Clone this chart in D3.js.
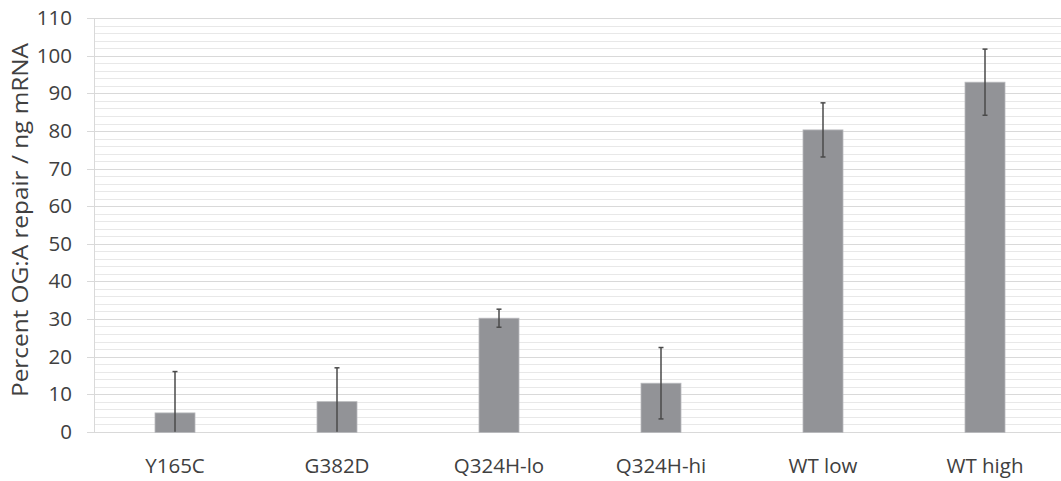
<!DOCTYPE html>
<html>
<head>
<meta charset="utf-8">
<script src="https://cdn.jsdelivr.net/npm/d3@7"></script>
<style>
  body { margin: 0; background: #fff; }
  text { font-family: "Open Sans", sans-serif; fill: #404040; }
</style>
</head>
<body>
<script>
var categories = ['Y165C', 'G382D', 'Q324H-lo', 'Q324H-hi', 'WT low', 'WT high'];
var values = [5, 8, 30.2, 12.9, 80.3, 93];
var errors = [11, 9, 2.4, 9.5, 7.2, 8.8];
var majorTicks = [0, 10, 20, 30, 40, 50, 60, 70, 80, 90, 100, 110];
var minorTicks = d3.range(0, 111, 2);
var yTitle = 'Percent OG:A repair / ng mRNA';

var width = 1061, height = 481;
var plotLeft = 94, plotRight = 1066, plotTop = 18.3, plotBottom = 431.7;

var svg = d3.select('body').append('svg').attr('width', width).attr('height', height);

var x = d3.scaleBand().domain(categories).range([plotLeft, plotRight]).paddingInner(0).paddingOuter(0);
var y = d3.scaleLinear().domain([0, 110]).range([plotBottom, plotTop]);

function py(d) { return Math.round(y(d)) + 0.5; }

// minor gridlines
svg.append('g').selectAll('line.minor')
  .data(minorTicks.filter(function(d){ return d % 10 !== 0; }))
  .enter().append('line')
    .attr('class', 'minor')
    .attr('x1', plotLeft).attr('x2', width)
    .attr('y1', py).attr('y2', py)
    .attr('stroke', '#e8e8e8').attr('stroke-width', 1);

// major gridlines + y axis
var yAxis = d3.axisLeft(y).tickValues(majorTicks).tickSize(7).tickPadding(15);
var gy = svg.append('g').attr('transform', 'translate(' + plotLeft + ',0)').call(yAxis);
gy.select('.domain').remove();
gy.selectAll('.tick').attr('transform', function(d){ return 'translate(0,' + py(d) + ')'; });
gy.selectAll('.tick line')
  .attr('x1', -7)
  .attr('x2', width - plotLeft)
  .attr('stroke', '#d9d9d9');
gy.selectAll('.tick text')
  .attr('x', -22)
  .style('font-size', '20.5px')
  .style('font-family', '"Open Sans", sans-serif')
  .attr('fill', '#404040');

// left axis line
svg.append('line')
  .attr('x1', plotLeft + 0.5).attr('x2', plotLeft + 0.5)
  .attr('y1', py(110)).attr('y2', py(0))
  .attr('stroke', '#d9d9d9');

// bars
var barW = 40;
function cx(i) { return x(categories[i]) + x.bandwidth() / 2; }
svg.selectAll('rect.bar')
  .data(values)
  .enter().append('rect')
    .attr('class', 'bar')
    .attr('x', function(d, i){ return cx(i) - barW / 2; })
    .attr('y', function(d){ return y(d); })
    .attr('width', barW)
    .attr('height', function(d){ return py(0) - y(d); })
    .attr('fill', '#929397')
    .attr('stroke', '#b9babd')
    .attr('stroke-width', 0.8);

// error bars
var eg = svg.append('g').selectAll('g.err')
  .data(values)
  .enter().append('g').attr('class', 'err');
eg.append('line')
  .attr('x1', function(d, i){ return cx(i); })
  .attr('x2', function(d, i){ return cx(i); })
  .attr('y1', function(d, i){ return y(Math.max(0, d - errors[i])); })
  .attr('y2', function(d, i){ return y(d + errors[i]); })
  .attr('stroke', '#4a4a4a').attr('stroke-width', 1.5);
eg.append('line')
  .attr('x1', function(d, i){ return cx(i) - 2.5; })
  .attr('x2', function(d, i){ return cx(i) + 2.5; })
  .attr('y1', function(d, i){ return y(d + errors[i]); })
  .attr('y2', function(d, i){ return y(d + errors[i]); })
  .attr('stroke', '#4a4a4a').attr('stroke-width', 1.5);
eg.append('line')
  .attr('x1', function(d, i){ return cx(i) - 2.5; })
  .attr('x2', function(d, i){ return cx(i) + 2.5; })
  .attr('y1', function(d, i){ return y(Math.max(0, d - errors[i])); })
  .attr('y2', function(d, i){ return y(Math.max(0, d - errors[i])); })
  .attr('stroke', '#4a4a4a').attr('stroke-width', 1.5)
  .attr('display', function(d, i){ return d - errors[i] > 0 ? null : 'none'; });

// x axis
var xAxis = d3.axisBottom(x).tickSize(0).tickPadding(27);
var gx = svg.append('g').attr('transform', 'translate(0,' + plotBottom + ')').call(xAxis);
gx.select('.domain').remove();
gx.selectAll('.tick text')
  .style('font-size', '20.5px')
  .style('font-family', '"Open Sans", sans-serif')
  .attr('fill', '#404040');

// y title
svg.append('text')
  .attr('transform', 'translate(28,' + ((43 + 397) / 2) + ') rotate(-90)')
  .attr('text-anchor', 'middle')
  .attr('textLength', 354)
  .attr('lengthAdjust', 'spacingAndGlyphs')
  .style('font-size', '22px')
  .text(yTitle);
</script>
</body>
</html>
